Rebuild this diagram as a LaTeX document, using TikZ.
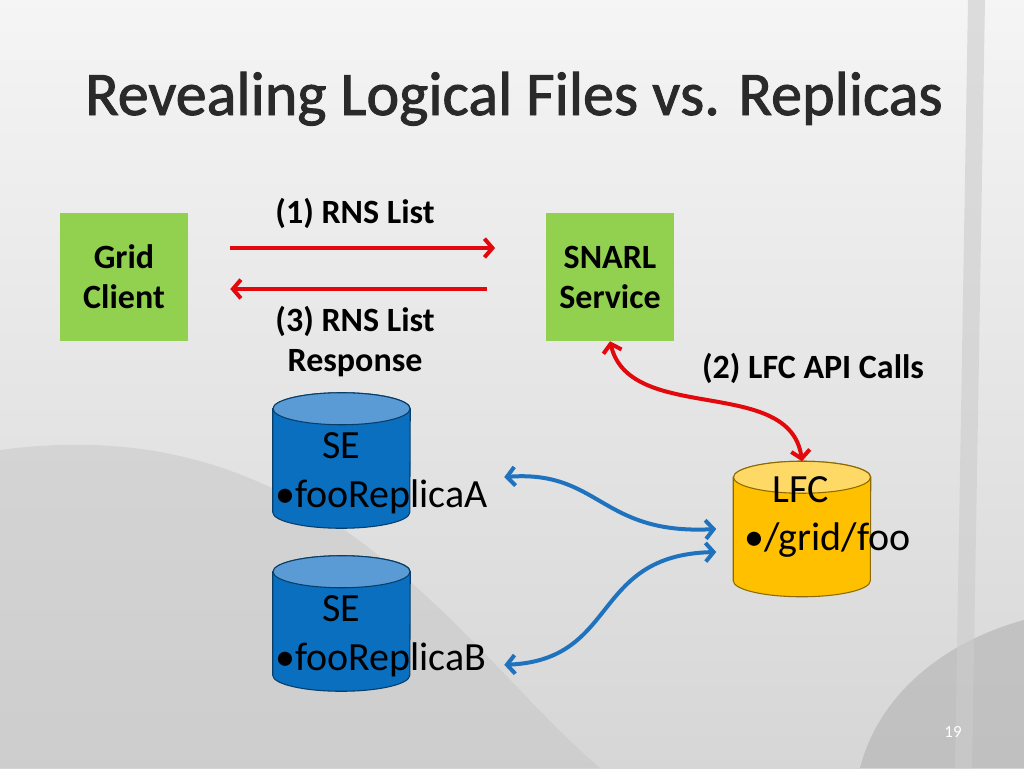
\documentclass[tikz,border=0pt]{standalone}
\usepackage{fontspec}
\setmainfont{Carlito}
\newfontfamily\titlefont{Carlito}[FakeBold=1.5]
\usetikzlibrary{arrows.meta}

\definecolor{boxgreen}{HTML}{92D050}
\definecolor{linkred}{HTML}{E3080B}
\definecolor{linkblue}{HTML}{1F72BE}
\definecolor{seblue}{HTML}{0A6FBF}
\definecolor{setop}{HTML}{5B9BD5}
\definecolor{lfcyellow}{HTML}{FFC000}
\definecolor{lfctop}{HTML}{FFD966}
\definecolor{titlegray}{HTML}{2A2A2A}

% cylinder drawn round a named node: name, body colour, top colour
\newcommand\dbshape[3]{%
    \filldraw[fill=#2,draw=#2!55!black,line width=0.8pt]
        ([yshift=-12pt]#1.north west) -- ([yshift=12pt]#1.south west)
        arc[start angle=180,end angle=360,x radius=51.4pt,y radius=12pt]
        -- ([yshift=-12pt]#1.north east)
        arc[start angle=0,end angle=180,x radius=51.4pt,y radius=12pt] -- cycle;
    \filldraw[fill=#3,draw=#2!55!black,line width=0.8pt]
        ([yshift=-12pt]#1.north) ellipse[x radius=51.4pt,y radius=12pt];
}

\begin{document}
\begin{tikzpicture}[x=0.75pt,y=-0.75pt,>={Straight Barb[length=6pt,width=14pt]},
    box/.style={fill=boxgreen,minimum width=96pt,minimum height=96pt,align=center,
        font=\fontsize{25.5}{30}\selectfont\bfseries},
    lbl/.style={font=\fontsize{25.5}{30}\selectfont\bfseries,align=center},
    db/.style={minimum width=102.75pt,minimum height=101.25pt,inner sep=0pt},
    dbtext/.style={font=\fontsize{30}{32}\selectfont},
    rarr/.style={draw=linkred,line width=3pt},
    barr/.style={draw=linkblue,line width=3pt}]

    % slide background
    \fill[top color=gray!8,bottom color=gray!32] (0,0) rectangle (1024,768);
    \fill[gray!45,opacity=0.5] (0,450) .. controls (150,430) and (250,470) .. (330,520)
        .. controls (450,600) and (520,700) .. (600,768) -- (0,768) -- cycle;
    \fill[gray!60,opacity=0.6] (860,768) .. controls (880,690) and (950,640) .. (1024,620) -- (1024,768) -- cycle;
    \fill[gray!40,opacity=0.6] (968,0) -- (985,0) -- (972,768) -- (955,768) -- cycle;

    % title
    \node[font=\titlefont\fontsize{46.5}{50}\selectfont,text=titlegray,anchor=base] (title) at (514,115)
        {Revealing Logical Files vs. Replicas};

    % boxes
    \node[box] (client) at (124,277) {Grid\\Client};
    \node[box] (snarl) at (610,277) {SNARL\\Service};

    % databases
    \node[db] (seA) at (341.5,460.5) {};
    \node[db] (seB) at (341.5,623.5) {};
    \node[db] (lfc) at (802,529) {};
    \dbshape{seA}{seblue}{setop}
    \dbshape{seB}{seblue}{setop}
    \dbshape{lfc}{lfcyellow}{lfctop}

    \node[dbtext,anchor=base] (seAname) at (341,458) {SE};
    \node[dbtext,anchor=base west,inner sep=0pt] (seAfile) at (275,507) {•fooReplicaA};
    \node[dbtext,anchor=base] (seBname) at (341,621) {SE};
    \node[dbtext,anchor=base west,inner sep=0pt] (seBfile) at (275,670) {•fooReplicaB};
    \node[dbtext,anchor=base] (lfcname) at (801,502) {LFC};
    \node[dbtext,anchor=base west,inner sep=0pt] (lfcfile) at (744,550) {•/grid/foo};

    % messages
    \draw[rarr,->,shorten <=31.5pt,shorten >=38pt] ([yshift=21.75pt]client.east) -- ([yshift=21.75pt]snarl.west);
    \draw[rarr,->,shorten <=44.25pt,shorten >=31.5pt] ([yshift=-9pt]snarl.west) -- ([yshift=-9pt]client.east);
    \node[lbl,anchor=base] (req) at (355,223) {(1) RNS List};
    \node[lbl] (resp) at (355,342) {(3) RNS List\\Response};

    \draw[rarr,<->] (snarl.south) .. controls (630,425) and (790,375) .. (lfc.north);
    \node[lbl,anchor=base] (api) at (813,378) {(2) LFC API Calls};

    \draw[barr,<->] ([xshift=70.5pt,yshift=-12.4pt]seA.east) .. controls (600,470) and (600,535) .. ([xshift=-12.75pt]lfc.west);
    \draw[barr,<->] ([xshift=70.5pt,yshift=-31pt]seB.east) .. controls (620,660) and (590,555) .. ([xshift=-12.75pt,yshift=-17.25pt]lfc.west);

    % page number
    \node[text=white,font=\fontsize{12.75}{14}\selectfont,anchor=base] (page) at (953,737) {19};
\end{tikzpicture}
\end{document}
